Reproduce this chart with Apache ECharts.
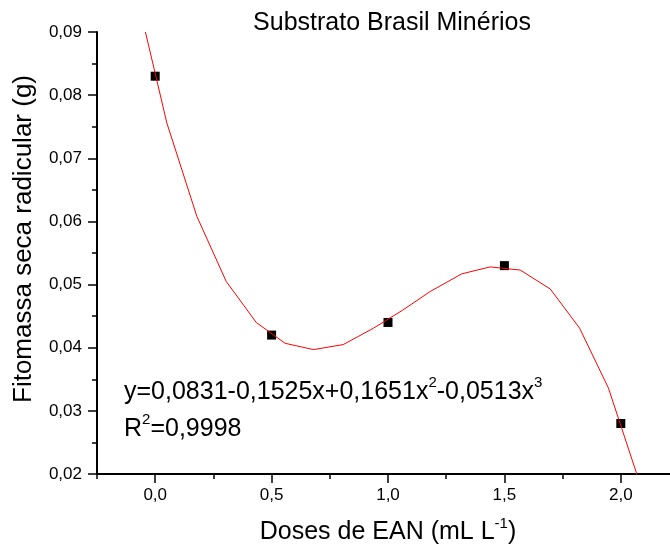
<!DOCTYPE html>
<html>
<head>
<meta charset="utf-8">
<script src="https://cdn.jsdelivr.net/npm/echarts@6/dist/echarts.min.js"></script>
<style>
html,body{margin:0;padding:0;background:#fff;}
#chart{width:670px;height:544px;}
</style>
</head>
<body>
<div id="chart"></div>
<script>
// Observed data (doses, dry root mass)
const doseX = [0, 0.5, 1.0, 1.5, 2.0];
const massY = [0.083, 0.042, 0.044, 0.053, 0.028];

// Fitted curve vertices
const curveX = [-0.042, 0.050, 0.179, 0.305, 0.434, 0.558, 0.680, 0.808, 0.938, 1.061, 1.181, 1.317, 1.439, 1.568, 1.697, 1.823, 1.947, 2.066, 2.08];
const curveY = [0.0900, 0.0756, 0.0608, 0.0505, 0.0440, 0.0407, 0.0397, 0.0405, 0.0431, 0.0459, 0.0489, 0.0517, 0.0528, 0.0523, 0.0493, 0.0431, 0.0336, 0.0203, 0.0185];

// Ticks
const xMajorTicks = [0, 0.5, 1.0, 1.5, 2.0];
const xMinorTicks = [-0.25, 0.25, 0.75, 1.25, 1.75, 2.25];
const yTickLabels = [0.02, 0.03, 0.04, 0.05, 0.06, 0.07, 0.08, 0.09];

const titleText = 'Substrato Brasil Minérios';
const xName = '{a|Doses de EAN (mL L}{s|-1}{a|)}';
const yName = 'Fitomassa seca radicular (g)';
const eqText = '{a|y=0,0831-0,1525x+0,1651x}{s|2}{a|-0,0513x}{s|3}';
const r2Text = '{a|R}{s|2}{a|=0,9998}';

const FONT = '"Liberation Sans", Arial, sans-serif';
const chart = echarts.init(document.getElementById('chart'));

const richSup = {
  a: {fontSize: 25, fontFamily: FONT, color: '#000', lineHeight: 33, verticalAlign: 'middle'},
  s: {fontSize: 15, fontFamily: FONT, color: '#000', lineHeight: 15, verticalAlign: 'top'}
};

const option = {
  animation: false,
  backgroundColor: '#fff',
  textStyle: {fontFamily: FONT, color: '#000'},
  grid: {left: 97, top: 32, bottom: 70, right: -9, outerBoundsMode: 'none', containLabel: false},
  xAxis: [{
    type: 'value', min: -0.25, max: 2.25, position: 'bottom',
    name: xName, nameLocation: 'middle', nameGap: 42,
    nameTextStyle: {fontSize: 25, fontFamily: FONT, color: '#000', rich: richSup},
    axisLine: {show: true, onZero: false, lineStyle: {color: '#000', width: 2}},
    axisTick: {show: true, customValues: xMajorTicks, length: 9, lineStyle: {color: '#000', width: 1.5}},
    axisLabel: {customValues: xMajorTicks, fontSize: 17, color: '#000', margin: 13,
      formatter: v => v.toFixed(1).replace('.', ',')},
    splitLine: {show: false}
  }, {
    type: 'value', min: -0.25, max: 2.25, position: 'bottom',
    axisLine: {show: false, onZero: false},
    axisTick: {show: true, customValues: xMinorTicks, length: 5, lineStyle: {color: '#000', width: 1.5}},
    axisLabel: {show: false},
    splitLine: {show: false}
  }],
  yAxis: {
    type: 'value', min: 0.02, max: 0.09, interval: 0.01,
    axisLine: {show: true, onZero: false, lineStyle: {color: '#000', width: 2}},
    axisTick: {show: true, length: 9, customValues: yTickLabels, lineStyle: {color: '#000', width: 1.5}},
    minorTick: {show: true, splitNumber: 2, length: 5, lineStyle: {color: '#000', width: 1.5}},
    axisLabel: {customValues: yTickLabels, fontSize: 17, color: '#000', margin: 15,
      formatter: v => v.toFixed(2).replace('.', ',')},
    splitLine: {show: false}
  },
  series: [{
    type: 'scatter', xAxisIndex: 0,
    data: doseX.map((x, i) => [x, massY[i]]),
    symbol: 'rect', symbolSize: 9,
    itemStyle: {color: '#000', opacity: 1}, z: 2
  }, {
    type: 'line', xAxisIndex: 0,
    data: curveX.map((x, i) => [x, curveY[i]]),
    showSymbol: false, symbol: 'none', smooth: false, clip: true,
    lineStyle: {color: '#ff0000', width: 1}, z: 3
  }],
  graphic: [{
    type: 'text', x: 392, y: 23,
    style: {text: titleText, fontSize: 25, fontFamily: FONT, fill: '#000', textAlign: 'center', textVerticalAlign: 'middle'}
  }, {
    type: 'text', x: 24, y: 239, rotation: Math.PI / 2,
    style: {text: yName, fontSize: 26, fontFamily: FONT, fill: '#000', textAlign: 'center', textVerticalAlign: 'middle'}
  }, {
    type: 'text', x: 124, y: 392,
    style: {text: eqText, rich: richSup, textAlign: 'left', textVerticalAlign: 'middle'}
  }, {
    type: 'text', x: 124, y: 429,
    style: {text: r2Text, rich: richSup, textAlign: 'left', textVerticalAlign: 'middle'}
  }]
};
chart.setOption(option);
</script>
</body>
</html>
